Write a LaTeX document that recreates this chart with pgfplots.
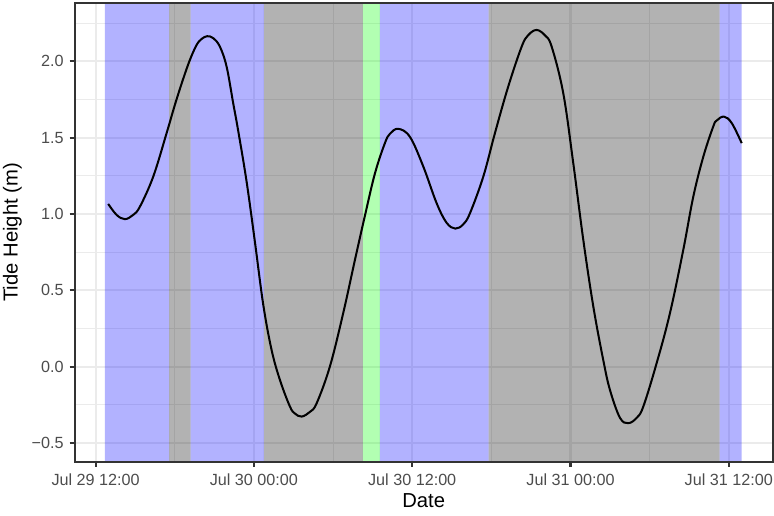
\documentclass[border=0pt]{standalone}
\usepackage{pgfplots}
\pgfplotsset{compat=1.18}
\usepackage{fontspec}
\setmainfont{Liberation Sans}
\definecolor{grey92}{gray}{0.92}
\definecolor{grey20}{gray}{0.2}
\definecolor{grey30}{gray}{0.3}
\begin{document}
\begin{tikzpicture}
\begin{axis}[
  scale only axis,
  width=379.8pt, height=249.7pt,
  xmin=-1.59, xmax=51.33, ymin=-0.625, ymax=2.383,
  xtick={0,12,24,36,48},
  xticklabels={Jul 29 12:00, Jul 30 00:00, Jul 30 12:00, Jul 31 00:00, Jul 31 12:00},
  minor xtick={6,18,30,42},
  ytick={-0.5,0,0.5,1,1.5,2},
  yticklabels={−0.5,0.0,0.5,1.0,1.5,2.0},
  minor ytick={-0.25,0.25,0.75,1.25,1.75,2.25},
  grid=both,
  major grid style={color=grey92, line width=1.1pt},
  minor grid style={color=grey92, line width=0.55pt},
  axis line style={draw=none},
  tick align=outside,
  major tick length=2.75pt, minor tick length=0pt,
  tick style={draw=grey20, line width=1.1pt},
  xtick pos=bottom, ytick pos=left,
  ticklabel style={font=\fontsize{8.8}{10}\selectfont, text=grey30, inner sep=0pt},
  xticklabel style={yshift=-3.6pt},
  yticklabel style={xshift=-3.1pt},
  xlabel={Date}, ylabel={Tide Height (m)},
  every axis x label/.style={at={(axis description cs:0.5,-0.084)}, anchor=center, inner sep=0pt, font=\fontsize{11}{13}\selectfont},
  every axis y label/.style={at={(axis description cs:-0.089,0.5)}, rotate=90, anchor=center, inner sep=0pt, font=\fontsize{11}{13}\selectfont},
]
% shaded periods
\addplot[draw=none, fill=blue, fill opacity=0.3] coordinates {(0.70,-1) (5.58,-1) (5.58,3) (0.70,3)} \closedcycle;
\addplot[draw=none, fill=black, fill opacity=0.3] coordinates {(5.58,-1) (7.20,-1) (7.20,3) (5.58,3)} \closedcycle;
\addplot[draw=none, fill=blue, fill opacity=0.3] coordinates {(7.20,-1) (12.76,-1) (12.76,3) (7.20,3)} \closedcycle;
\addplot[draw=none, fill=black, fill opacity=0.3] coordinates {(12.76,-1) (20.27,-1) (20.27,3) (12.76,3)} \closedcycle;
\addplot[draw=none, fill=green, fill opacity=0.3] coordinates {(20.27,-1) (21.55,-1) (21.55,3) (20.27,3)} \closedcycle;
\addplot[draw=none, fill=blue, fill opacity=0.3] coordinates {(21.55,-1) (29.80,-1) (29.80,3) (21.55,3)} \closedcycle;
\addplot[draw=none, fill=black, fill opacity=0.3] coordinates {(29.80,-1) (47.31,-1) (47.31,3) (29.80,3)} \closedcycle;
\addplot[draw=none, fill=blue, fill opacity=0.3] coordinates {(47.31,-1) (48.98,-1) (48.98,3) (47.31,3)} \closedcycle;
% tide curve
\addplot[black, line width=1.1pt, smooth, tension=0.6] coordinates {
(0.955,1.066) (1.59,0.994) (2.22,0.966) (2.85,0.994) (3.36,1.048) (4.37,1.245) (5.38,1.529) (6.01,1.715)
(6.6,1.875) (7.15,2.010) (7.66,2.108) (8.04,2.147) (8.46,2.165) (8.92,2.152) (9.42,2.097) (9.93,1.966)
(10.43,1.726) (10.81,1.545) (11.45,1.210)
(12.08,0.815) (12.71,0.405) (13.34,0.109) (13.97,-0.087) (14.73,-0.262) (15.11,-0.308) (15.62,-0.328)
(16.25,-0.297) (16.76,-0.240) (17.76,0.0) (18.77,0.350) (19.66,0.699) (20.42,0.990) (21.18,1.267)
(21.93,1.464) (22.31,1.525) (22.94,1.558) (23.83,1.505) (24.84,1.311) (25.85,1.071)
(26.61,0.942) (27.27,0.904) (27.87,0.932) (28.38,1.005) (29.39,1.245) (30.27,1.529) (31.28,1.835) (32.30,2.097)
(32.8,2.172) (33.43,2.206) (34.07,2.170) (34.57,2.097) (35.45,1.792) (36.21,1.333) (36.97,0.830) (37.73,0.393)
(38.48,0.044) (38.99,-0.153) (39.75,-0.336) (40.38,-0.371) (41.02,-0.336) (41.52,-0.262) (42.53,0.022)
(43.54,0.350) (44.55,0.765) (45.31,1.114) (46.07,1.376) (46.82,1.573) (47.08,1.612) (47.63,1.638)
(48.22,1.596) (48.98,1.464)
};
\coordinate (ll) at (rel axis cs:0,0);
\coordinate (ur) at (rel axis cs:1,1);
\end{axis}
\draw[grey20, line width=1.1pt] (ll) rectangle (ur);
\path ([xshift=-40.6pt,yshift=-29.4pt]ll) rectangle ([xshift=0.7pt,yshift=1.6pt]ur);
\end{tikzpicture}
\end{document}
